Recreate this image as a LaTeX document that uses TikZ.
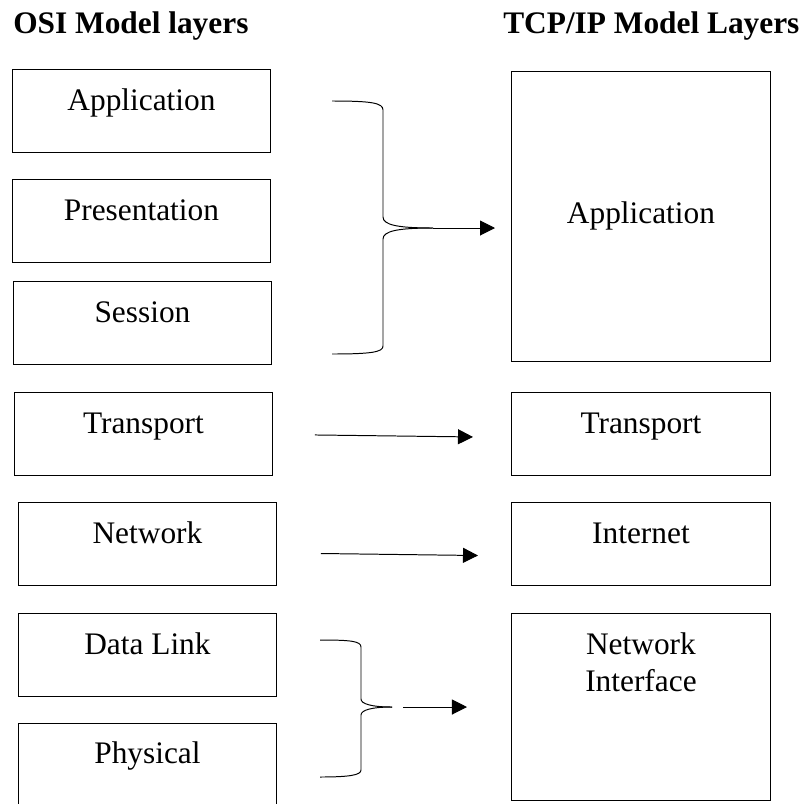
\documentclass[tikz,border=0pt]{standalone}
\usepackage{fontspec}
\setmainfont{Liberation Serif}
\usetikzlibrary{arrows.meta}

\begin{document}
\begin{tikzpicture}[x=0.025cm,y=-0.025cm,
  layer/.style={draw,line width=0.6pt,inner sep=0pt,anchor=north west,minimum width=6.45cm,
    text height=1.0375cm,text depth=1.0375cm,font=\fontsize{22.3}{26.3}\selectfont},
  head/.style={inner sep=0pt,anchor=base west,font=\bfseries\fontsize{22.3}{26.3}\selectfont},
  arr/.style={line width=0.7pt,-{Triangle[length=0.375cm,width=0.375cm]}},
  brc/.style={line width=0.7pt}]
\useasboundingbox (0,0) rectangle (807,803);
\node[head] (osiT) at (13,33) {OSI Model layers};
\node[head] (tcpT) at (503,33) {TCP/IP Model Layers};
\node[layer] (appL) at (12,69) {Application};
\node[layer] (preL) at (12,179) {Presentation};
\node[layer] (sesL) at (13,281) {Session};
\node[layer] (traL) at (14,392) {Transport};
\node[layer] (netL) at (18,502) {Network};
\node[layer] (dllL) at (18,613) {Data Link};
\node[layer,text height=1cm,text depth=1.1cm] (phyL) at (18,723) {Physical};
\node[layer,minimum width=6.475cm,text height=3.8cm,text depth=3.45cm] (appR) at (511,71) {Application};
\node[layer,minimum width=6.475cm] (traR) at (511,392) {Transport};
\node[layer,minimum width=6.475cm] (intR) at (511,502) {Internet};
\node[layer,minimum width=6.475cm,text height=1.95cm,text depth=2.725cm,align=center] (nifR) at (511,613) {Network\\Interface};
\coordinate (brA) at (433,228);
\coordinate (brB) at (392,707);
\draw[brc] (332,101) .. controls (372,101) and (383,103) .. (383,110) -- (383,217)
  .. controls (383,225) and (398,228) .. (brA);
\draw[brc] (brA) .. controls (398,228) and (383,231) .. (383,239) -- (383,346)
  .. controls (383,352) and (372,354) .. (332,354);
\draw[brc] (320,640) .. controls (350,640) and (361,641) .. (361,647) -- (361,699)
  .. controls (361,704) and (372,707) .. (brB);
\draw[brc] (brB) .. controls (372,707) and (361,710) .. (361,715) -- (361,770)
  .. controls (361,775) and (350,777) .. (320,777);
\draw[arr,shorten >=0.4cm] (brA) -- (brA -| appR.west);
\draw[arr,shorten <=1.05cm,shorten >=0.95cm] ([yshift=-0.0125cm]traL.east) -- ([yshift=-0.0875cm]traR.west);
\draw[arr,shorten <=1.1cm,shorten >=0.825cm] ([yshift=-0.225cm]netL.east) -- ([yshift=-0.3cm]intR.west);
\draw[arr,shorten <=0.275cm,shorten >=1.1cm] (brB) -- (brB -| nifR.west);
\end{tikzpicture}
\end{document}
